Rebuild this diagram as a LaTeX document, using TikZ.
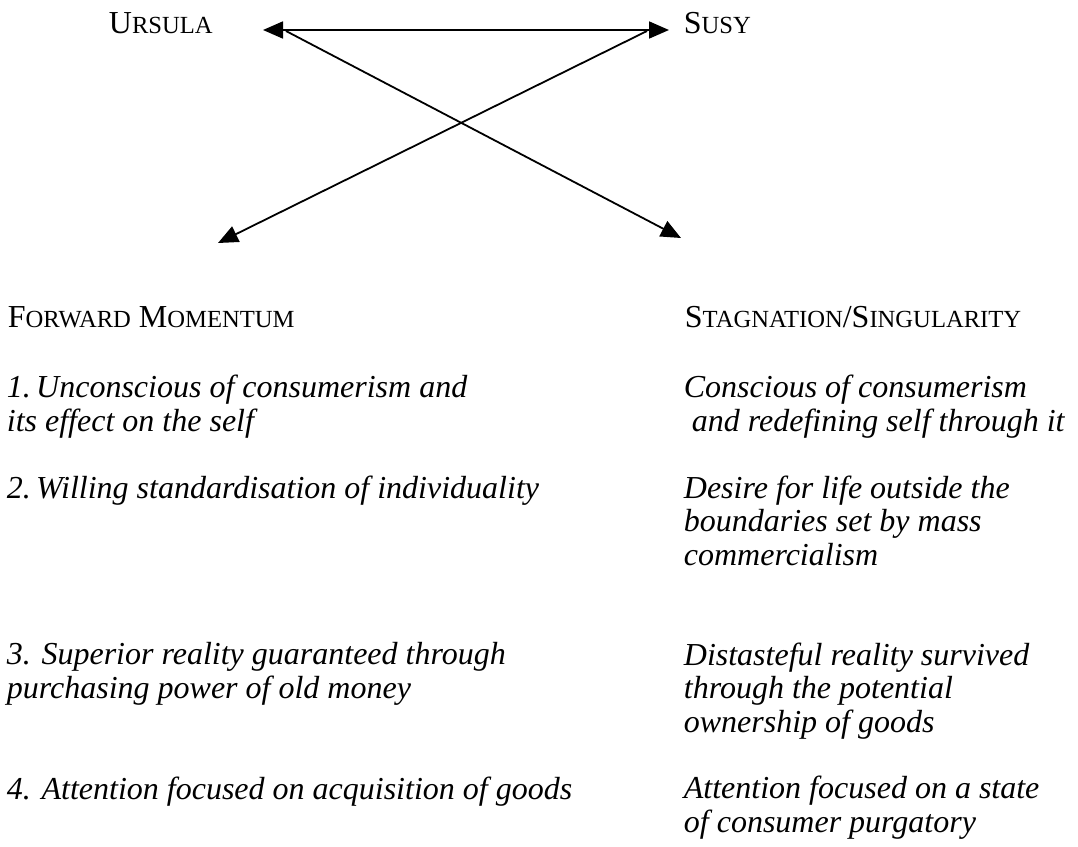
\documentclass[tikz,border=0pt]{standalone}
\usepackage{fontspec}
\setmainfont{Liberation Serif}
\usepackage{tikz}
\usetikzlibrary{positioning,arrows.meta,calc}

% fake small capitals: first letter full size, the rest smaller
\newcommand{\smc}[1]{{\fontsize{12.3}{16.7}\selectfont #1}}

\begin{document}
\begin{tikzpicture}[x=0.5pt, y=-0.5pt, >={Triangle[length=10pt,width=8.5pt]}, line width=0.9pt,
  every node/.style={font=\fontsize{16}{16.7}\selectfont, inner sep=0pt, anchor=base west},
  item/.style={font=\fontsize{16}{16.7}\selectfont\itshape, align=left}]
  \useasboundingbox (0,0) rectangle (1078,847);

  % names and arrows
  \node (ursula) at (108,33) {U\smc{RSULA}};
  \node (susy) at (683,33) {S\smc{USY}};

  \coordinate (ul) at (263,30);
  \coordinate (ur) at (669,30);
  \coordinate (ulstart) at (286,31);
  \coordinate (urstart) at (647,31);
  \coordinate (fwd) at (218,243);
  \coordinate (stag) at (681,238);

  \draw[<->] (ul) -- (ur);
  \draw[->] (ulstart) -- (stag);
  \draw[->] (urstart) -- (fwd);

  % column heads
  \node (fwdhead) at (7,327) {F\smc{ORWARD} M\smc{OMENTUM}};
  \node (staghead) at (684,327) {S\smc{TAGNATION}/S\smc{INGULARITY}};

  % left column (placed at the baseline of the last line)
  \node[item] (f1) at (6,431) {1.\,Unconscious of consumerism and\\its effect on the self};
  \node[item] (f2) at (6,498) {2.\,Willing standardisation of individuality};
  \node[item] (f3) at (6,698) {3. Superior reality guaranteed through\\purchasing power of old money};
  \node[item] (f4) at (6,799) {4. Attention focused on acquisition of goods};

  % right column
  \node[item] (s1) at (683,431) {Conscious of consumerism\\\hspace*{0.25em}and redefining self through it};
  \node[item] (s2) at (683,565) {Desire for life outside the\\boundaries set by mass\\commercialism};
  \node[item] (s3) at (683,732) {Distasteful reality survived\\through the potential\\ownership of goods};
  \node[item] (s4) at (683,832) {Attention focused on a state\\of consumer purgatory};
\end{tikzpicture}
\end{document}
